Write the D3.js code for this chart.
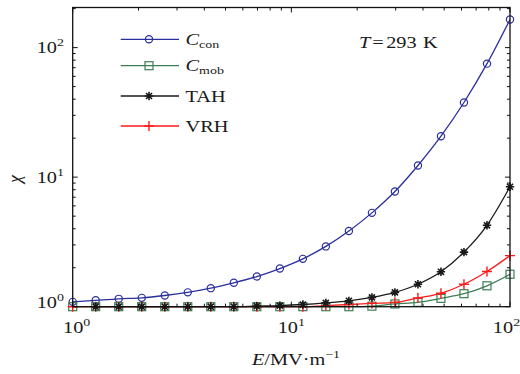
<!DOCTYPE html>
<html><head><meta charset="utf-8">
<script src="https://cdn.jsdelivr.net/npm/d3@7"></script>
<style>
body{margin:0;background:#fff;}
svg text{font-family:"Liberation Serif","Times New Roman",serif;fill:#1a1a1a;}
</style></head>
<body><svg id="c" width="520" height="374"></svg>
<script>
const E = [1, 1.274, 1.624, 2.069, 2.637, 3.360, 4.281, 5.456, 6.952, 8.859, 11.29, 14.38, 18.33, 23.36, 29.76, 37.93, 48.33, 61.58, 78.48, 100];
const Ccon = [1.09, 1.12, 1.15, 1.17, 1.22, 1.29, 1.39, 1.53, 1.71, 1.97, 2.34, 2.92, 3.84, 5.30, 7.74, 12.3, 20.7, 37.7, 75.2, 165];
const Cmob = [1, 1, 1, 1, 1, 1, 1, 1, 1, 1, 1, 1, 1.0, 1.01, 1.05, 1.08, 1.16, 1.26, 1.45, 1.78];
const TAH = [null, 1, 1, 1, 1, 1, 1, 1, 1.01, 1.02, 1.04, 1.07, 1.11, 1.18, 1.29, 1.49, 1.86, 2.64, 4.25, 8.43];
const VRH = [1, 1, 1, 1, 1, 1, 1, 1, 1, 1, 1, 1.02, 1.04, 1.06, 1.08, 1.17, 1.27, 1.49, 1.87, 2.48];
const xTicks = [1, 10, 100];
const yTicks = [1, 10, 100];
const tickExp = ["0", "1", "2"];

const svg = d3.select("#c");
const L = 72.7, R = 510, T = 7.5, B = 306.7;
const SX = 1.27, FS = 16, FSS = 11;
const x = d3.scaleLog().domain([1, 100]).range([L, R]);
const y = d3.scaleLog().domain([1, 204]).range([B, T]);

const series = [
  {name: "Ccon", vals: Ccon, color: "#2a2f9c", marker: "circle"},
  {name: "Cmob", vals: Cmob, color: "#3d7d55", marker: "square"},
  {name: "VRH", vals: VRH, color: "#ff1a1a", marker: "plus"},
  {name: "TAH", vals: TAH, color: "#1a1a1a", marker: "star"}
];

function drawMarker(g, type, cx, cy, color) {
  if (type === "circle") {
    g.append("circle").attr("cx", cx).attr("cy", cy).attr("r", 3.6)
      .attr("fill", "none").attr("stroke", color).attr("stroke-width", 1.2);
  } else if (type === "square") {
    g.append("rect").attr("x", cx - 4).attr("y", cy - 4).attr("width", 8).attr("height", 8)
      .attr("fill", "none").attr("stroke", color).attr("stroke-width", 1.2);
  } else if (type === "plus") {
    g.append("path").attr("d", `M${cx-5},${cy}H${cx+5}M${cx},${cy-5}V${cy+5}`)
      .attr("stroke", color).attr("stroke-width", 1.4).attr("fill", "none");
  } else if (type === "star") {
    const r = 4.2;
    let d = `M${cx-r},${cy}H${cx+r}M${cx},${cy-r}V${cy+r}`;
    const k = r * 0.72;
    d += `M${cx-k},${cy-k}L${cx+k},${cy+k}M${cx-k},${cy+k}L${cx+k},${cy-k}`;
    g.append("path").attr("d", d).attr("stroke", color).attr("stroke-width", 1.6).attr("fill", "none");
  }
}

function stext(px, py, anchor) {
  return svg.append("g").attr("transform", `translate(${px},${py}) scale(${SX},1)`)
    .append("text").attr("x", 0).attr("y", 0).attr("text-anchor", anchor || "start").attr("font-size", FS);
}

const line = d3.line().defined(d => d[1] != null).x(d => x(d[0])).y(d => y(d[1])).curve(d3.curveMonotoneX);

series.forEach(s => {
  const pts = E.map((e, i) => [e, s.vals[i]]);
  svg.append("path").attr("d", line(pts)).attr("fill", "none")
    .attr("stroke", s.color).attr("stroke-width", 1.3);
  const g = svg.append("g");
  pts.forEach(p => { if (p[1] != null) drawMarker(g, s.marker, x(p[0]), y(p[1]), s.color); });
});

svg.append("rect").attr("x", L).attr("y", T).attr("width", R - L).attr("height", B - T)
  .attr("fill", "none").attr("stroke", "#111").attr("stroke-width", 1.3);

const tg = svg.append("g").attr("stroke", "#111").attr("stroke-width", 1);
const xMinor = [];
for (let dec = 1; dec < 100; dec *= 10) for (let m = 1; m < 10; m++) xMinor.push(dec * m);
xMinor.push(100);
xMinor.forEach(v => {
  const major = xTicks.includes(v);
  const len = major ? 5 : 3;
  const px = x(v);
  tg.append("line").attr("x1", px).attr("x2", px).attr("y1", B).attr("y2", B - len);
  tg.append("line").attr("x1", px).attr("x2", px).attr("y1", T).attr("y2", T + len);
});
const yMinor = [];
for (let dec = 1; dec <= 100; dec *= 10) for (let m = 1; m < 10; m++) if (dec * m <= 204) yMinor.push(dec * m);
yMinor.forEach(v => {
  const major = yTicks.includes(v);
  const len = major ? 5 : 3;
  const py = y(v);
  tg.append("line").attr("x1", L).attr("x2", L + len).attr("y1", py).attr("y2", py);
  tg.append("line").attr("x1", R).attr("x2", R - len).attr("y1", py).attr("y2", py);
});

const xLabelPos = [x(1) + 4, x(10), x(100) - 3.5];
xTicks.forEach((v, i) => {
  const t = stext(xLabelPos[i], 333, "middle");
  t.append("tspan").text("10");
  t.append("tspan").attr("dy", -7).attr("font-size", FSS).text(tickExp[i]);
});
const yLabelDy = [1.5, 5.5, 5.5];
yTicks.forEach((v, i) => {
  const t = stext(64, y(v) + yLabelDy[i], "end");
  t.append("tspan").text("10");
  t.append("tspan").attr("dy", -7).attr("font-size", FSS).text(tickExp[i]);
});

const xl = stext(296, 365, "middle");
xl.append("tspan").attr("font-style", "italic").text("E");
xl.append("tspan").text("/MV·m");
xl.append("tspan").attr("dy", -7).attr("font-size", FSS).text("−1");
svg.append("text").attr("transform", "translate(21,179) rotate(-90)").attr("text-anchor", "middle")
  .attr("font-size", 18).attr("font-style", "italic").text("χ");

const ta = stext(359, 48, "start");
ta.append("tspan").attr("font-style", "italic").text("T");
ta.append("tspan").attr("dx", 1.5).text("=");
ta.append("tspan").attr("dx", 2).text("293");
ta.append("tspan").attr("dx", 5).text("K");

const legend = [
  {s: series[0], main: "C", sub: "con", y: 39.3},
  {s: series[1], main: "C", sub: "mob", y: 65.7},
  {s: series[3], main: "TAH", sub: null, y: 96},
  {s: series[2], main: "VRH", sub: null, y: 126}
];
legend.forEach(l => {
  svg.append("line").attr("x1", 120.7).attr("x2", 179).attr("y1", l.y).attr("y2", l.y)
    .attr("stroke", l.s.color).attr("stroke-width", 1.3);
  drawMarker(svg, l.s.marker, 149, l.y, l.s.color);
  const t = stext(185.5, l.y + 5.5, "start");
  if (l.sub) {
    t.append("tspan").attr("font-style", "italic").text(l.main);
    t.append("tspan").attr("dy", 3).attr("font-size", FSS).text(l.sub);
  } else {
    t.text(l.main);
  }
});
</script></body></html>
